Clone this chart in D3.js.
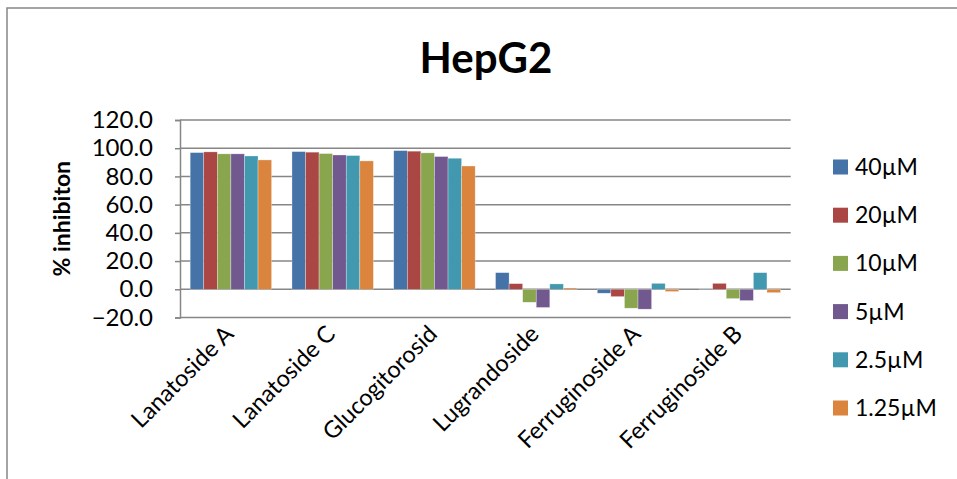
<!DOCTYPE html>
<html>
<head>
<meta charset="utf-8">
<script src="https://cdn.jsdelivr.net/npm/d3@7/dist/d3.min.js"></script>
<style>
  html, body { margin: 0; padding: 0; background: #fff; }
  svg { display: block; font-family: Lato, "Open Sans", sans-serif; }
</style>
</head>
<body>
<svg id="chart" width="957" height="479"></svg>
<script>
// Compounds tested on HepG2 cells
const categories = ["Lanatoside A", "Lanatoside C", "Glucogitorosid", "Lugrandoside", "Ferruginoside A", "Ferruginoside B"];
// Concentrations (one series each)
const seriesNames = ["40\u00B5M", "20\u00B5M", "10\u00B5M", "5\u00B5M", "2.5\u00B5M", "1.25\u00B5M"];
// % inhibition per compound, one array per concentration
const v40  = [96.9, 97.6, 98.3, 11.8, -2.8, 0.2];
const v20  = [97.4, 97.2, 97.9, 4.0, -5.2, 4.2];
const v10  = [96.0, 96.2, 96.7, -9.2, -13.4, -6.6];
const v5   = [96.0, 95.2, 94.1, -12.9, -14.1, -8.0];
const v2_5 = [94.5, 94.8, 92.9, 3.8, 4.2, 11.8];
const v1_25 = [91.7, 91.0, 87.4, 0.9, -1.6, -2.4];
const seriesValues = [v40, v20, v10, v5, v2_5, v1_25];
const yTicks = [-20, 0, 20, 40, 60, 80, 100, 120];
const colors = ["#4572A7", "#AA4643", "#89A54E", "#71588F", "#4198AF", "#DB843D"];

const svg = d3.select("#chart");

// outer chart frame
svg.append("rect")
  .attr("x", 7).attr("y", 8).attr("width", 1000).attr("height", 500)
  .attr("fill", "none").attr("stroke", "#868686").attr("stroke-width", 1.5);

const plot = { left: 180, right: 790.7, top: 120, bottom: 317.5 };

const x0 = d3.scaleBand().domain(categories).range([plot.left, plot.right]).paddingInner(0.2).paddingOuter(0.1);
const x1 = d3.scaleBand().domain(d3.range(seriesNames.length)).range([0, x0.bandwidth()]);
const y = d3.scaleLinear().domain([-20, 120]).range([plot.bottom, plot.top]);

// horizontal gridlines
svg.append("g").selectAll("line").data(yTicks).join("line")
  .attr("x1", plot.left).attr("x2", plot.right)
  .attr("y1", d => y(d)).attr("y2", d => y(d))
  .attr("stroke", "#868686").attr("stroke-width", 1.5);

// y axis
const yAxis = d3.axisLeft(y).tickValues(yTicks).tickFormat(d3.format(".1f")).tickSize(5).tickPadding(22);
const yg = svg.append("g").attr("transform", `translate(${plot.left},0)`).call(yAxis);
yg.select(".domain").attr("stroke", "#868686").attr("stroke-width", 1.5);
yg.selectAll(".tick line").attr("stroke", "#868686").attr("stroke-width", 1.5);
yg.selectAll(".tick text").attr("font-size", 24).attr("fill", "#000")
  .attr("font-family", "Lato, sans-serif");

// y axis title
svg.append("text")
  .attr("transform", `translate(70,${(plot.top + plot.bottom) / 2}) rotate(-90)`)
  .attr("text-anchor", "middle")
  .attr("font-size", 23).attr("font-weight", "bold")
  .text("% inhibiton");

// bars
const groups = svg.append("g").selectAll("g").data(categories).join("g")
  .attr("transform", d => `translate(${x0(d)},0)`);
groups.selectAll("rect")
  .data((c, ci) => seriesValues.map((vals, si) => ({ si, v: vals[ci] })))
  .join("rect")
  .attr("x", d => x1(d.si))
  .attr("width", x1.bandwidth())
  .attr("y", d => y(Math.max(0, d.v)))
  .attr("height", d => Math.abs(y(d.v) - y(0)))
  .attr("fill", d => colors[d.si])
  .attr("stroke", "#ffffff").attr("stroke-opacity", 0.5).attr("stroke-width", 0.6);

// category labels, rotated
svg.append("g").selectAll("text").data(categories).join("text")
  .attr("transform", d => `translate(${x0(d) + x0.bandwidth() / 2 + 4},${plot.bottom + 18}) rotate(-45)`)
  .attr("text-anchor", "end")
  .attr("font-size", 23.5)
  .text(d => d);

// title
svg.append("text")
  .attr("x", 486).attr("y", 73)
  .attr("text-anchor", "middle")
  .attr("font-size", 42).attr("font-weight", "bold")
  .text("HepG2");

// legend
const legend = svg.append("g").selectAll("g").data(seriesNames).join("g")
  .attr("transform", (d, i) => `translate(833,${167 + i * 48.2})`);
legend.append("rect")
  .attr("x", 0).attr("y", -7.5).attr("width", 15).attr("height", 15)
  .attr("fill", (d, i) => colors[i]);
legend.append("text")
  .attr("x", 22).attr("y", 0).attr("dy", "0.35em")
  .attr("font-size", 23)
  .text(d => d);
</script>
</body>
</html>
